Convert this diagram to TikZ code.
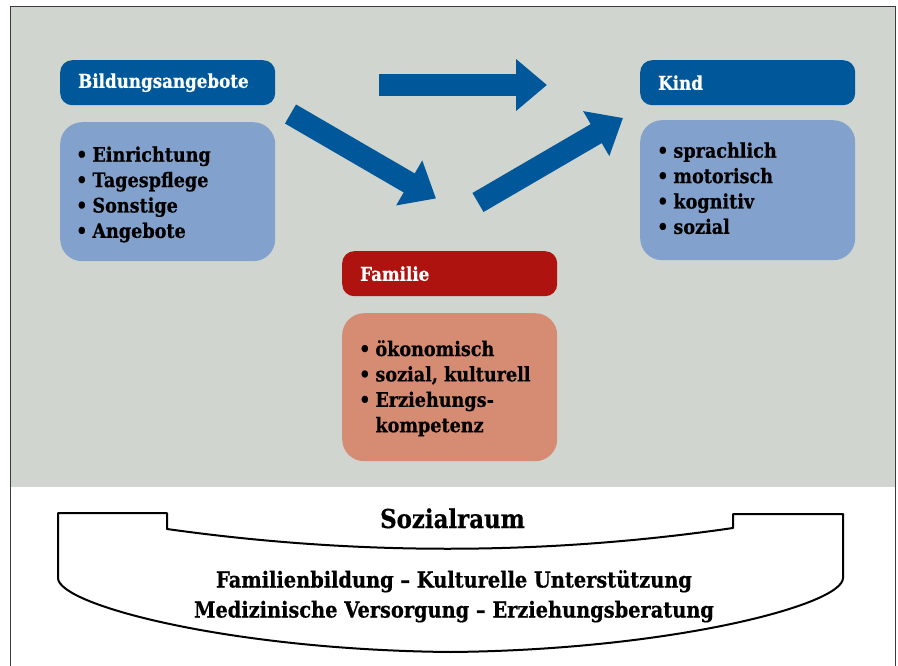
\documentclass[tikz,border=0pt]{standalone}
\usepackage{fontspec}
\setmainfont[FakeStretch=0.88, BoldFeatures={FakeBold=0.6}]{DejaVu Serif}
\usetikzlibrary{arrows.meta}

\definecolor{dunkelblau}{RGB}{0,88,154}
\definecolor{hellblau}{RGB}{130,161,204}
\definecolor{dunkelrot}{RGB}{174,19,16}
\definecolor{lachs}{RGB}{214,139,115}
\definecolor{hintergrund}{RGB}{208,213,207}
\definecolor{rahmenfarbe}{RGB}{60,60,60}

\begin{document}
\begin{tikzpicture}[x=1pt,y=-1pt]
\tikzset{font=\bfseries}
\tikzset{kopf/.style={anchor=north west, rounded corners=12pt, minimum height=45pt, text width=179pt, inner xsep=18pt, inner ysep=0pt, align=left, text=white, font=\bfseries\fontsize{19}{22}\selectfont}}
\tikzset{inhalt/.style={anchor=north west, rounded corners=22pt, minimum width=215pt, minimum height=139pt, inner sep=0pt}}
\tikzset{liste/.style={anchor=base west, inner sep=0pt, font=\bfseries\fontsize{20}{25.4}\selectfont}}
\tikzset{pfeil/.style={draw=dunkelblau, line width=22pt, -{Triangle[length=31pt,width=50pt]}}}
\tikzset{raum/.style={draw=black, line width=2pt, line join=round}}
\tikzset{unten/.style={anchor=base, font=\bfseries\fontsize{22}{26}\selectfont}}
\useasboundingbox (0,0) rectangle (898,666);
\fill[hintergrund] (11,7) rectangle (895,487);
\draw[rahmenfarbe, line width=1.2pt] (10.5,667) -- (10.5,6.5) -- (895.5,6.5) -- (895.5,667);

\node[kopf, fill=dunkelblau] (bildung) at (60,60) {Bildungsangebote};
\node[inhalt, fill=hellblau] (bildung-box) at (60,122) {};
\node[liste] (bildung-liste) at (76,161.7) {\begin{tabular}[t]{@{}l@{\hspace{5pt}}l@{}}
\textbullet & Einrichtung\\ \textbullet & Tagespflege\\ \textbullet & Sonstige\\ \textbullet & Angebote
\end{tabular}};
\node[kopf, fill=dunkelblau] (kind) at (640,60) {Kind};
\node[inhalt, fill=hellblau, minimum height=140pt] (kind-box) at (640,120) {};
\node[liste] (kind-liste) at (657,157.7) {\begin{tabular}[t]{@{}l@{\hspace{5pt}}l@{}}
\textbullet & sprachlich\\ \textbullet & motorisch\\ \textbullet & kognitiv\\ \textbullet & sozial
\end{tabular}};
\node[kopf, fill=dunkelrot] (familie) at (342,251) {Familie};
\node[inhalt, fill=lachs, minimum height=148pt] (familie-box) at (342,313) {};
\node[liste] (familie-liste) at (359,356) {\begin{tabular}[t]{@{}l@{\hspace{5pt}}l@{}}
\textbullet & ökonomisch\\ \textbullet & sozial, kulturell\\ \textbullet & Erziehungs-\\ & kompetenz
\end{tabular}};

\coordinate (p1a) at (379,85);
\coordinate (p1b) at (547,85);
\coordinate (p2a) at (290.5,114);
\coordinate (p2b) at (436,198.5);
\coordinate (p3a) at (478,202.5);
\coordinate (p3b) at (623,118);
\draw[pfeil] (p1a) -- (p1b);
\draw[pfeil] (p2a) -- (p2b);
\draw[pfeil] (p3a) -- (p3b);

\draw[raum] (58,513) -- (167,513) -- (167,529)
  .. controls (356,555.5) and (544,555.5) .. (733,528) -- (733,514) -- (843,514) -- (843,578)
  .. controls (843,605) and (670,650) .. (450.5,652)
  .. controls (230,650) and (58,605) .. (58,578) -- cycle;
\node[anchor=base, font=\bfseries\fontsize{26}{30}\selectfont] (sozialraum) at (452.5,528) {Sozialraum};
\node[unten] (zeile1) at (454,587.5) {Familienbildung – Kulturelle Unterstützung};
\node[unten] (zeile2) at (454,617.5) {Medizinische Versorgung – Erziehungsberatung};
\end{tikzpicture}
\end{document}
